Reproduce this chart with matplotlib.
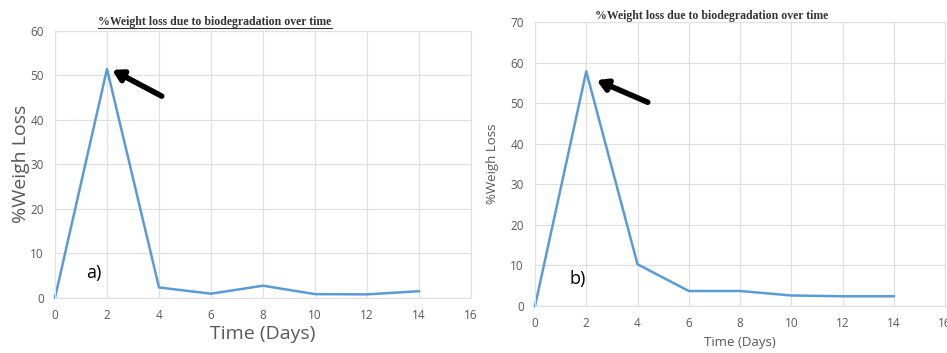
import numpy as np
import matplotlib
matplotlib.use('Agg')
import matplotlib.pyplot as plt
from matplotlib.lines import Line2D

# Data
days = [0, 2, 4, 6, 8, 10, 12, 14]
loss_a = [0, 51.4, 2.3, 0.9, 2.7, 0.8, 0.75, 1.45]
loss_b = [0, 57.9, 10.3, 3.7, 3.7, 2.6, 2.4, 2.4]
x_ticks = [0, 2, 4, 6, 8, 10, 12, 14, 16]
y_ticks_a = [0, 10, 20, 30, 40, 50, 60]
y_ticks_b = [0, 10, 20, 30, 40, 50, 60, 70]
title = '%Weight loss due to biodegradation over time'

LINE = '#5b9bd5'
GRID = '#e0e0e0'
TICK = '#595959'

plt.rcParams['font.family'] = ['Open Sans', 'DejaVu Sans']

fig = plt.figure(figsize=(9.47, 3.53), dpi=100)
ax_a = fig.add_axes([55 / 947, 55.3 / 353, 416 / 947, 267 / 353])
ax_b = fig.add_axes([535 / 947, 47 / 353, 410 / 947, 283.7 / 353])


def style(ax, yticks, fs):
    ax.set_xlim(0, 16)
    ax.set_ylim(0, yticks[-1])
    ax.set_xticks(x_ticks)
    ax.set_yticks(yticks)
    ax.grid(True, color=GRID, linewidth=0.9)
    ax.set_axisbelow(True)
    for s in ax.spines.values():
        s.set_color(GRID)
    ax.tick_params(length=0, labelsize=fs, colors=TICK, pad=8)


# panel a
style(ax_a, y_ticks_a, 8.5)
ax_a.plot(days, loss_a, color=LINE, linewidth=1.8, clip_on=False)
ax_a.set_ylabel('%Weigh Loss', fontsize=14, color=TICK, labelpad=0)
ax_a.set_xlabel('Time (Days)', fontsize=14, color=TICK, labelpad=2)
ax_a.text(1.5, 4.5, 'a)', fontsize=13, color='black', ha='center')
ax_a.annotate('', xy=(2.1, 51.5), xytext=(4.2, 45.0),
              arrowprops=dict(arrowstyle='-|>,head_width=0.35,head_length=0.6',
                              color='black', lw=4))
ta = fig.text(215 / 947, 1 - 22 / 353, title, fontsize=8.5, fontweight='bold',
              family='Liberation Serif', color='#333333', ha='center', va='center')

# panel b
style(ax_b, y_ticks_b, 8.5)
ax_b.plot(days, loss_b, color=LINE, linewidth=1.8, clip_on=False)
ax_b.set_ylabel('%Weigh Loss', fontsize=9.5, color=TICK, labelpad=8)
ax_b.set_xlabel('Time (Days)', fontsize=9.5, color=TICK, labelpad=4)
ax_b.text(1.65, 5.5, 'b)', fontsize=13, color='black', ha='center')
ax_b.annotate('', xy=(2.3, 56.0), xytext=(4.5, 50.0),
              arrowprops=dict(arrowstyle='-|>,head_width=0.35,head_length=0.6',
                              color='black', lw=4))
fig.text(712 / 947, 1 - 16 / 353, title, fontsize=8.5, fontweight='bold',
         family='Liberation Serif', color='#333333', ha='center', va='center')

# underline the title of panel a
fig.canvas.draw()
bb = ta.get_window_extent().transformed(fig.transFigure.inverted())
fig.add_artist(Line2D([bb.x0, bb.x1], [bb.y0, bb.y0], color='#333333', lw=0.8))

fig.savefig('out.png', dpi=100)
